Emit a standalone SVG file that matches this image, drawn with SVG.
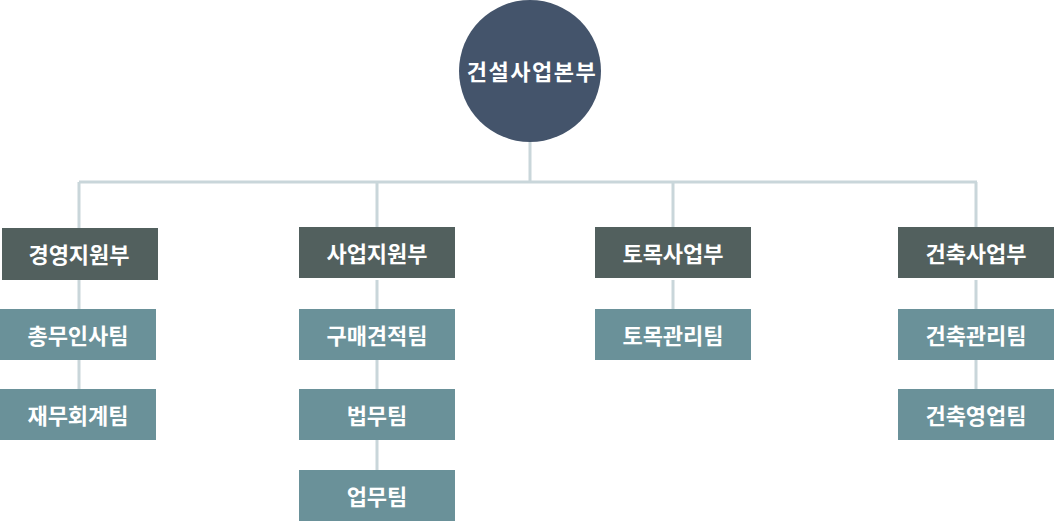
<svg xmlns="http://www.w3.org/2000/svg" width="1054" height="522" viewBox="0 0 1054 522">
<style>
.ln{stroke:#c9d6da;stroke-width:3;fill:none}
.dept{fill:#52605e}
.team{fill:#6a9199}
.t{fill:#fff;font-family:"Noto Sans CJK KR","Noto Sans",sans-serif;font-weight:bold;font-size:22px;text-anchor:middle;dominant-baseline:central}
</style>
<rect width="1054" height="522" fill="#fff"/>
<g id="connectors">
<path class="ln" d="M530 142V182M79 182H977M79 182V228M377 182V228M673 182V228M976 182V228"/>
<path class="ln" d="M79 280V440M377 280V470M673 280V309M976 280V389"/>
</g>
<g id="root"><circle cx="530" cy="71" r="71" fill="#44546b"/><text class="t" x="532" y="70" font-size="23" letter-spacing="1.5">건설사업본부</text></g>
<g id="d1"><rect class="dept" x="2" y="228" width="156" height="52"/><text class="t" x="79" y="253">경영지원부</text></g>
<g id="t11"><rect class="team" x="0" y="309" width="156" height="51"/><text class="t" x="78" y="334">총무인사팀</text></g>
<g id="t12"><rect class="team" x="0" y="389" width="156" height="51"/><text class="t" x="78" y="414">재무회계팀</text></g>
<g id="d2"><rect class="dept" x="299" y="227" width="156" height="51"/><text class="t" x="377" y="252">사업지원부</text></g>
<g id="t21"><rect class="team" x="299" y="309" width="156" height="51"/><text class="t" x="377" y="334">구매견적팀</text></g>
<g id="t22"><rect class="team" x="299" y="389" width="156" height="51"/><text class="t" x="377" y="414">법무팀</text></g>
<g id="t23"><rect class="team" x="299" y="470" width="156" height="51"/><text class="t" x="377" y="495">업무팀</text></g>
<g id="d3"><rect class="dept" x="595" y="227" width="156" height="51"/><text class="t" x="673" y="252">토목사업부</text></g>
<g id="t31"><rect class="team" x="595" y="309" width="156" height="51"/><text class="t" x="673" y="334">토목관리팀</text></g>
<g id="d4"><rect class="dept" x="898" y="227" width="156" height="51"/><text class="t" x="976" y="252">건축사업부</text></g>
<g id="t41"><rect class="team" x="898" y="309" width="156" height="51"/><text class="t" x="976" y="334">건축관리팀</text></g>
<g id="t42"><rect class="team" x="898" y="389" width="156" height="51"/><text class="t" x="976" y="414">건축영업팀</text></g>
</svg>
